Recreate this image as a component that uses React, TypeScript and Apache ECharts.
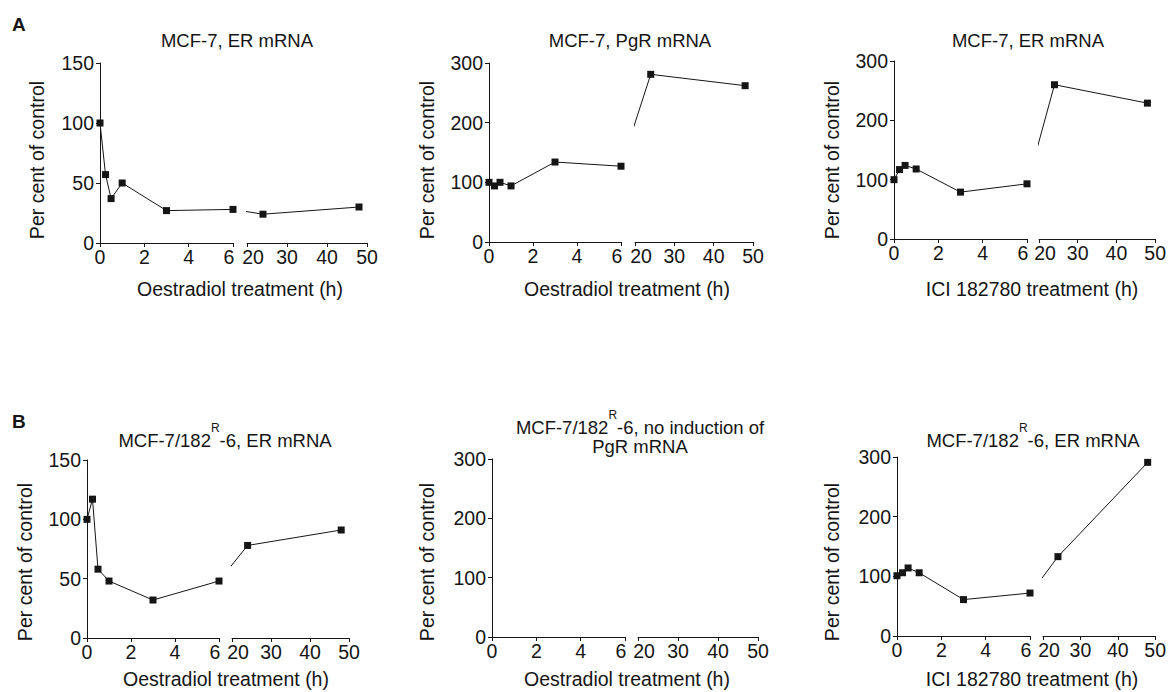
import React, { useEffect, useRef } from "react";
import * as echarts from "echarts";

// ---- Data ----
const timesH = [0, 0.25, 0.5, 1, 3, 6, 24, 48];
const mcf7ErOestradiol = [100, 57, 37, 50, 27, 28, 24, 30];
const mcf7PgrOestradiol = [100, 94, 100, 94, 134, 127, 281, 262];
const mcf7ErIci = [100, 117, 124, 118, 79, 93, 260, 229];
const r6ErOestradiol = [100, 117, 58, 48, 32, 48, 78, 91];
const r6PgrOestradiol: number[] = [];
const r6ErIci = [101, 106, 114, 106, 61, 72, 133, 291];

const leftTicks = [0, 2, 4, 6];
const rightTicks = [20, 30, 40, 50];
const yMaxes = [150, 300, 300, 150, 300, 300];
const yIntervals = [50, 100, 100, 50, 100, 100];

const titleParts: string[][] = [
  ["MCF-7, ER mRNA"],
  ["MCF-7, PgR mRNA"],
  ["MCF-7, ER mRNA"],
  ["MCF-7/182", "R", "-6, ER mRNA"],
  ["MCF-7/182", "R", "-6, no induction of", "PgR mRNA"],
  ["MCF-7/182", "R", "-6, ER mRNA"],
];
const xNames = [
  "Oestradiol treatment (h)",
  "Oestradiol treatment (h)",
  "ICI 182780 treatment (h)",
  "Oestradiol treatment (h)",
  "Oestradiol treatment (h)",
  "ICI 182780 treatment (h)",
];
const yName = "Per cent of control";
const panelLetters = ["A", "B"];
const seriesValues = [
  mcf7ErOestradiol,
  mcf7PgrOestradiol,
  mcf7ErIci,
  r6ErOestradiol,
  r6PgrOestradiol,
  r6ErIci,
];

// ---- Layout (pixels) ----
const layouts = [
  { x0: 100, x6: 233, x20: 247, x50: 367, top: 63, bottom: 243, tX: 237, tY: 40, nX: 240, nY: 289, yX: 37, yY: 160 },
  { x0: 489, x6: 621, x20: 635, x50: 753, top: 63, bottom: 242, tX: 630, tY: 40, nX: 627, nY: 289, yX: 427, yY: 160 },
  { x0: 894, x6: 1027, x20: 1039, x50: 1159, top: 61, bottom: 239, tX: 1028, tY: 40, nX: 1032, nY: 289, yX: 832, yY: 160 },
  { x0: 87, x6: 219, x20: 232, x50: 349, top: 460, bottom: 638, tX: 225, tY: 440, nX: 226, nY: 679, yX: 25, yY: 562 },
  { x0: 492, x6: 625, x20: 638, x50: 758, top: 459, bottom: 637, tX: 640, tY: 427, nX: 627, nY: 679, yX: 427, yY: 562 },
  { x0: 897, x6: 1030, x20: 1043, x50: 1163, top: 457, bottom: 636, tX: 1033, tY: 440, nX: 1032, nY: 679, yX: 832, yY: 562 },
];
const letterPos = [
  { x: 12, y: 24 },
  { x: 12, y: 421 },
];

const FONT = '"Liberation Sans", Arial, Helvetica, sans-serif';
const INK = "#151515";
const TICK_FS = 19.5;
const NAME_FS = 19.5;
const TITLE_FS = 18.5;

function textEl(x: number, y: number, text: string, extra: any = {}, rotation = 0) {
  return {
    type: "text",
    x,
    y,
    rotation,
    silent: true,
    style: {
      text,
      fontSize: NAME_FS,
      fontFamily: FONT,
      fill: INK,
      align: "center",
      verticalAlign: "middle",
      textAlign: "center",
      textVerticalAlign: "middle",
      ...extra,
    },
  };
}

function buildOption() {
  const grid: any[] = [];
  const xAxis: any[] = [];
  const yAxis: any[] = [];
  const series: any[] = [];
  const graphic: any[] = [];

  const lineStyle = { color: INK, width: 1 };
  const labelBase = { fontSize: TICK_FS, fontFamily: FONT, color: INK };

  layouts.forEach((L, i) => {
    const gl = grid.length;
    const h = L.bottom - L.top;
    grid.push({ left: L.x0, top: L.top, width: L.x6 - L.x0, height: h });
    grid.push({ left: L.x20, top: L.top, width: L.x50 - L.x20, height: h });

    xAxis.push({
      type: "value",
      gridIndex: gl,
      min: leftTicks[0],
      max: leftTicks[leftTicks.length - 1],
      interval: leftTicks[1] - leftTicks[0],
      axisLine: { show: true, lineStyle },
      axisTick: { show: true, length: 4, lineStyle },
      splitLine: { show: false },
      axisLabel: {
        ...labelBase,
        margin: 4,
        formatter: (v: number) => (v === leftTicks[leftTicks.length - 1] ? `{l|${v}}` : `${v}`),
        rich: { l: { ...labelBase, padding: [0, 8, 0, 0] } },
      },
    });
    xAxis.push({
      type: "value",
      gridIndex: gl + 1,
      min: rightTicks[0],
      max: rightTicks[rightTicks.length - 1],
      interval: rightTicks[1] - rightTicks[0],
      axisLine: { show: true, lineStyle },
      axisTick: { show: true, length: 4, lineStyle },
      splitLine: { show: false },
      axisLabel: {
        ...labelBase,
        margin: 4,
        formatter: (v: number) => (v === rightTicks[0] ? `{r|${v}}` : `${v}`),
        rich: { r: { ...labelBase, padding: [0, 0, 0, 12] } },
      },
    });
    yAxis.push({
      type: "value",
      gridIndex: gl,
      min: 0,
      max: yMaxes[i],
      interval: yIntervals[i],
      axisLine: { show: true, lineStyle },
      axisTick: { show: true, length: 4, lineStyle },
      splitLine: { show: false },
      axisLabel: { ...labelBase, margin: 6 },
    });
    yAxis.push({
      type: "value",
      gridIndex: gl + 1,
      min: 0,
      max: yMaxes[i],
      interval: yIntervals[i],
      show: false,
      splitLine: { show: false },
    });

    const vals = seriesValues[i];
    if (vals.length) {
      const leftData: any[] = [];
      const rightData: any[] = [];
      let lastLeft: number | null = null;
      timesH.forEach((t, k) => {
        if (t <= leftTicks[leftTicks.length - 1]) {
          leftData.push([t, vals[k]]);
          lastLeft = vals[k];
        } else {
          rightData.push([t, vals[k]]);
        }
      });
      // position of the last left point expressed in the right axis' units (display space)
      const span = rightTicks[rightTicks.length - 1] - rightTicks[0];
      const virtualX = rightTicks[0] - ((L.x20 - L.x6) * span) / (L.x50 - L.x20);
      if (lastLeft !== null) {
        rightData.unshift({ value: [virtualX, lastLeft], symbol: "none" });
      }
      const common = {
        type: "line",
        clip: true,
        symbol: "rect",
        symbolSize: 7,
        lineStyle: { color: INK, width: 1 },
        itemStyle: { color: INK },
        emphasis: { disabled: true },
      };
      series.push({ ...common, xAxisIndex: gl, yAxisIndex: gl, data: leftData });
      series.push({ ...common, xAxisIndex: gl + 1, yAxisIndex: gl + 1, data: rightData });
    }

    // title
    const parts = titleParts[i];
    if (parts.length === 1) {
      graphic.push(textEl(L.tX, L.tY, parts[0], { fontSize: TITLE_FS }));
    } else {
      const twoLines = parts.length > 3;
      const txt =
        `{a|${parts[0]}}{sup|${parts[1]}}{a|${parts[2]}}` + (twoLines ? `\n{b|${parts[3]}}` : "");
      graphic.push(
        textEl(L.tX, twoLines ? L.tY + 5.5 : L.tY - 4, txt, {
          fontSize: TITLE_FS,
          rich: {
            a: { fontSize: TITLE_FS, fontFamily: FONT, fill: INK, lineHeight: 28, verticalAlign: "bottom" },
            sup: { fontSize: 12, fontFamily: FONT, fill: INK, verticalAlign: "top" },
            b: { fontSize: TITLE_FS, fontFamily: FONT, fill: INK, lineHeight: 19, verticalAlign: "bottom" },
          },
        })
      );
    }
    // axis names
    graphic.push(textEl(L.nX, L.nY, xNames[i]));
    graphic.push(textEl(L.yX, L.yY, yName, {}, Math.PI / 2));
  });

  panelLetters.forEach((s, k) => {
    graphic.push(
      textEl(letterPos[k].x, letterPos[k].y, s, { fontWeight: "bold", fontSize: 19, align: "left", textAlign: "left" })
    );
  });

  return {
    animation: false,
    backgroundColor: "#ffffff",
    grid,
    xAxis,
    yAxis,
    series,
    graphic: { elements: graphic },
  };
}

export default function App() {
  const ref = useRef<HTMLDivElement>(null);
  useEffect(() => {
    if (!ref.current) return;
    const chart = echarts.init(ref.current, undefined, { renderer: "svg" });
    chart.setOption(buildOption() as any);
    return () => chart.dispose();
  }, []);
  return (
    <div
      ref={ref}
      style={{ position: "fixed", left: 0, top: 0, width: 1169, height: 692, background: "#fff" }}
    />
  );
}
